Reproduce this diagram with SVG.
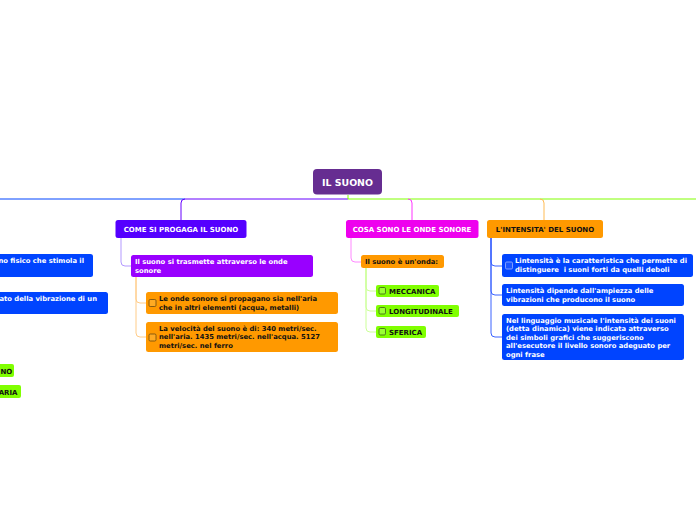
<svg xmlns="http://www.w3.org/2000/svg" width="696" height="520" viewBox="0 0 696 520">
<style>
text{font-family:"DejaVu Sans","Verdana",sans-serif;font-weight:bold}
.h{font-size:7px}
.s{font-size:6.8px}
.w{fill:#ffffff}
.k{fill:#111111}
.cb{stroke-width:0.8;rx:1.2}
</style>
<rect width="696" height="520" fill="#ffffff"/>
<g id="connectors" fill="none" stroke-width="1">
  <path d="M0 199 L185 199" stroke="#0044ff"/>
  <path d="M348 199 L185 199 Q181 199 181 203 L181 220" stroke="#6600ff"/>
  <path d="M348 195 L348 199 L696 199" stroke="#80ff00"/>
  <path d="M408 199 Q412 199 412 203 L412 220" stroke="#ff33ff"/>
  <path d="M540 199 Q544 199 544 203 L544 220" stroke="#ffbb55"/>
  <path d="M121 238 L121 262 Q121 266 125 266 L131 266" stroke="#b399ff"/>
  <path d="M136 277 L136 299 Q136 303 140 303 L146 303" stroke="#ffcc88"/>
  <path d="M136 277 L136 333 Q136 337 140 337 L146 337" stroke="#ffcc88"/>
  <path d="M351 238 L351 258 Q351 262 355 262 L361 262" stroke="#ff88ff"/>
  <path d="M366 268 L366 287 Q366 291 370 291 L376 291" stroke="#ccff99"/>
  <path d="M366 268 L366 307 Q366 311 370 311 L376 311" stroke="#ccff99"/>
  <path d="M366 268 L366 328 Q366 332 370 332 L376 332" stroke="#ccff99"/>
  <path d="M491 238 L491 262 Q491 266 495 266 L502 266" stroke="#3a62ff"/>
  <path d="M491 238 L491 291 Q491 295 495 295 L502 295" stroke="#3a62ff"/>
  <path d="M491 238 L491 333 Q491 337 495 337 L502 337" stroke="#3a62ff"/>
</g>
<g id="root">
  <rect x="313" y="169" width="69" height="25.5" rx="4" fill="#662d91"/>
  <text x="347.5" y="185.5" text-anchor="middle" class="w" font-size="9.4">IL SUONO</text>
</g>
<g id="n-come">
  <rect x="115.5" y="220" width="131" height="18" rx="2.5" fill="#5500ff"/>
  <text x="181" y="231.8" text-anchor="middle" class="h w">COME SI PROGAGA IL SUONO</text>
</g>
<g id="n-cosa">
  <rect x="346" y="220" width="132.5" height="18" rx="2.5" fill="#ee00ee"/>
  <text x="412" y="231.8" text-anchor="middle" class="h w">COSA SONO LE ONDE SONORE</text>
</g>
<g id="n-intensita">
  <rect x="487" y="220" width="116" height="18" rx="2.5" fill="#ff9900"/>
  <text x="545" y="231.8" text-anchor="middle" class="h k">L'INTENSITA' DEL SUONO</text>
</g>
<g id="n-trasmette">
  <rect x="131" y="255" width="182" height="22" rx="2.5" fill="#9900ff"/>
  <text x="135" y="264" class="s w">Il suono si trasmette attraverso le onde</text>
  <text x="135" y="273" class="s w">sonore</text>
</g>
<g id="n-propagano">
  <rect x="146" y="292" width="192" height="22" rx="2.5" fill="#ff9900"/>
  <rect x="149" y="299.5" width="7" height="7" class="cb" fill="#ffaa22" stroke="#6b4a10"/>
  <text x="159" y="301" class="s k">Le onde sonore si propagano sia nell'aria</text>
  <text x="159" y="309.5" class="s k">che in altri elementi (acqua, metalli)</text>
</g>
<g id="n-velocita">
  <rect x="146" y="322" width="192" height="30" rx="2.5" fill="#ff9900"/>
  <rect x="149" y="334" width="7" height="7" class="cb" fill="#ffaa22" stroke="#6b4a10"/>
  <text x="159" y="330.5" class="s k">La velocità del suono è di: 340 metri/sec.</text>
  <text x="159" y="339" class="s k">nell'aria. 1435 metri/sec. nell'acqua. 5127</text>
  <text x="159" y="347.5" class="s k">metri/sec. nel ferro</text>
</g>
<g id="n-onda">
  <rect x="361" y="255" width="83" height="13" rx="2.5" fill="#ff9900"/>
  <text x="365" y="264" class="s k">Il suono è un'onda:</text>
</g>
<g id="n-meccanica">
  <rect x="376" y="285" width="63" height="12" rx="2" fill="#80ff00"/>
  <rect x="379" y="287.5" width="6.5" height="6.5" class="cb" fill="#99ff33" stroke="#3d5c1a"/>
  <text x="389" y="294" class="h k">MECCANICA</text>
</g>
<g id="n-longitudinale">
  <rect x="376" y="305" width="83" height="12" rx="2" fill="#80ff00"/>
  <rect x="379" y="307.5" width="6.5" height="6.5" class="cb" fill="#99ff33" stroke="#3d5c1a"/>
  <text x="389" y="314" class="h k">LONGITUDINALE</text>
</g>
<g id="n-sferica">
  <rect x="376" y="326" width="50" height="12" rx="2" fill="#80ff00"/>
  <rect x="379" y="328.5" width="6.5" height="6.5" class="cb" fill="#99ff33" stroke="#3d5c1a"/>
  <text x="389" y="335" class="h k">SFERICA</text>
</g>
<g id="n-int1">
  <rect x="502" y="254" width="191" height="23" rx="2.5" fill="#0044ff"/>
  <rect x="505.5" y="262" width="7" height="7" class="cb" fill="#1a55ff" stroke="#9fb4ff"/>
  <text x="515" y="263" class="s w">Lintensità è la caratteristica che permette di</text>
  <text x="515" y="272" class="s w" xml:space="preserve">distinguere  i suoni forti da quelli deboli</text>
</g>
<g id="n-int2">
  <rect x="502" y="284" width="182" height="22" rx="2.5" fill="#0044ff"/>
  <text x="506" y="293" class="s w">Lintensità dipende dall'ampiezza delle</text>
  <text x="506" y="302" class="s w">vibrazioni che producono il suono</text>
</g>
<g id="n-int3">
  <rect x="502" y="314" width="182" height="46" rx="2.5" fill="#0044ff"/>
  <text x="506" y="322.5" class="s w">Nel linguaggio musicale l'intensità dei suoni</text>
  <text x="506" y="331" class="s w">(detta dinamica) viene indicata attraverso</text>
  <text x="506" y="339.5" class="s w">dei simboli grafici che suggeriscono</text>
  <text x="506" y="348" class="s w">all'esecutore il livello sonoro adeguato per</text>
  <text x="506" y="356.5" class="s w">ogni frase</text>
</g>
<g id="n-left1">
  <rect x="-120" y="254" width="213" height="23" rx="2.5" fill="#0044ff"/>
  <text x="84" y="263" text-anchor="end" class="s w">no fisico che stimola il</text>
</g>
<g id="n-left2">
  <rect x="-120" y="292" width="228" height="22" rx="2.5" fill="#0044ff"/>
  <text x="97" y="301" text-anchor="end" class="s w">ato della vibrazione di un</text>
</g>
<g id="n-left3">
  <rect x="-60" y="364" width="74" height="13" rx="2" fill="#80ff00"/>
  <text x="12.3" y="373.5" text-anchor="end" class="h k">NO</text>
</g>
<g id="n-left4">
  <rect x="-60" y="385" width="81" height="13" rx="2" fill="#80ff00"/>
  <text x="17.5" y="394.5" text-anchor="end" class="h k">ARIA</text>
</g>
</svg>
